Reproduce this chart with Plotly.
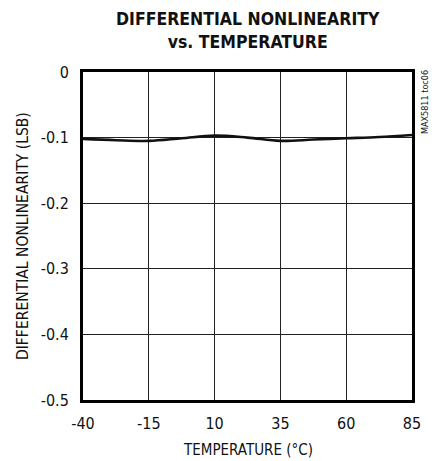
import plotly.graph_objects as go

temps = [-40, -27.5, -15, -2.5, 10, 22.5, 35, 47.5, 60, 72.5, 85]
dnl = [-0.102, -0.104, -0.105, -0.101, -0.097, -0.100, -0.105, -0.103, -0.101, -0.099, -0.096]
x_ticks = [-40, -15, 10, 35, 60, 85]
y_ticks = [0, -0.1, -0.2, -0.3, -0.4, -0.5]
y_tick_text = ["0", "-0.1", "-0.2", "-0.3", "-0.4", "-0.5"]

FONT = "DejaVu Sans Condensed, Roboto, sans-serif"

fig = go.Figure()
fig.add_trace(go.Scatter(x=temps, y=dnl, mode="lines", line=dict(color="#111", width=2.6, shape="spline", smoothing=1.0), showlegend=False))

# page body has an 8px default margin, so the figure is sized to fit the window
fig.update_layout(
    width=431, height=453,
    margin=dict(l=75, r=27, t=64, b=61),
    paper_bgcolor="white", plot_bgcolor="white",
    font=dict(family=FONT, size=15, color="#111"),
    xaxis=dict(range=[-40, 85], tickvals=x_ticks, ticktext=[str(v) for v in x_ticks], showgrid=True, gridcolor="#222", gridwidth=1,
               showline=True, linecolor="#000", linewidth=3, mirror=True, zeroline=False, ticks="", ticklabelstandoff=7,
               automargin=False, tickfont=dict(size=16)),
    yaxis=dict(range=[-0.5, 0], tickvals=y_ticks, ticktext=y_tick_text, showgrid=True, gridcolor="#222", gridwidth=1,
               showline=True, linecolor="#000", linewidth=3, mirror=True, zeroline=False, ticks="", ticklabelstandoff=8,
               automargin=False, tickfont=dict(size=16)),
)
fig.add_annotation(text="TEMPERATURE (°C)", x=0.5, xref="paper", y=0, yref="paper", yshift=-50, yanchor="middle",
                   xanchor="center", showarrow=False, font=dict(family=FONT, size=15, color="#111"))
fig.add_annotation(text="DIFFERENTIAL NONLINEARITY (LSB)", x=0, xref="paper", xshift=-60, y=0.5, yref="paper",
                   yanchor="middle", xanchor="center", textangle=-90, showarrow=False,
                   font=dict(family=FONT, size=15.5, color="#111"))
fig.add_annotation(text="<b>DIFFERENTIAL NONLINEARITY</b><br><b>vs. TEMPERATURE</b>", x=0.5, xref="paper", y=1.0, yref="paper",
                   yshift=42, yanchor="middle", xanchor="center", showarrow=False,
                   font=dict(family=FONT, size=17.5, color="#111"))
fig.add_annotation(text="MAX5811 toc06", x=1.0, xref="paper", xshift=13, y=1.0, yref="paper", yshift=4, yanchor="top",
                   xanchor="center", textangle=-90, showarrow=False, font=dict(family=FONT, size=9, color="#111"))
fig.write_html("out.html")
